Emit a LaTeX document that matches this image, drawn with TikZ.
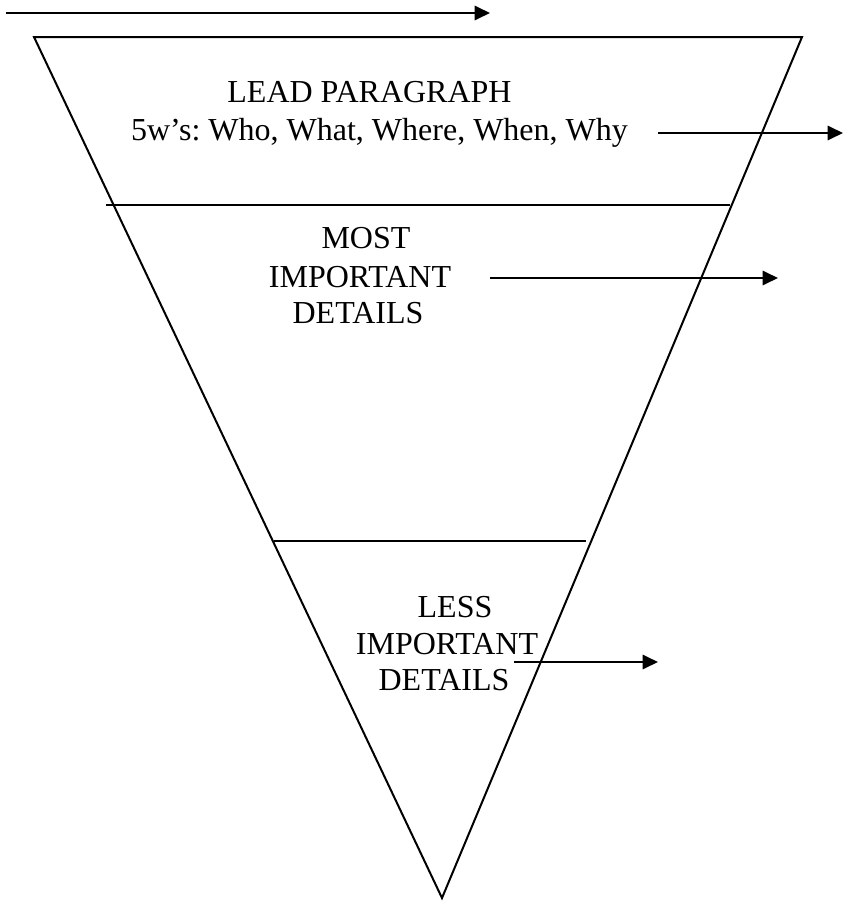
\documentclass[tikz,border=0pt]{standalone}
\usepackage{fontspec}
\setmainfont{Liberation Serif}
\usetikzlibrary{arrows.meta}
\frenchspacing
\begin{document}
\begin{tikzpicture}[x=0.375pt,y=-0.375pt,
  edge/.style={line width=0.75pt},
  arr/.style={line width=0.75pt,-{Triangle[length=5.8pt,width=5.4pt]}},
  lbl/.style={anchor=base,inner sep=0pt,font=\fontsize{12pt}{13.5pt}\selectfont}]
\useasboundingbox (0,0) rectangle (843,903);
% funnel
\coordinate (tl) at (34,37);
\coordinate (tr) at (802,37);
\coordinate (apex) at (442,898);
\draw[edge,line join=miter] (tl) -- (tr) -- (apex) -- cycle;
\coordinate (d1l) at (106,205);
\coordinate (d1r) at (730,205);
\coordinate (d2l) at (274,541);
\coordinate (d2r) at (586,541);
\draw[edge] (d1l) -- (d1r);
\draw[edge] (d2l) -- (d2r);
% texts
\node[lbl] (lead) at (369.5,102) {LEAD PARAGRAPH};
\node[lbl] (fivew) at (379.5,140) {5w’s: Who, What, Where, When, Why};
\node[lbl] (most1) at (366,248) {MOST};
\node[lbl] (most2) at (360,287) {IMPORTANT};
\node[lbl] (most3) at (358,323) {DETAILS};
\node[lbl] (less1) at (455,617) {LESS};
\node[lbl] (less2) at (447,654) {IMPORTANT};
\node[lbl] (less3) at (444,690) {DETAILS};
% arrows
\coordinate (a0s) at (6,13);
\coordinate (a0e) at (490,13);
\draw[arr] (a0s) -- (a0e);
\coordinate (a1s) at (658,133);
\coordinate (a1e) at (843,133);
\draw[arr] (a1s) -- (a1e);
\coordinate (a2s) at (490,278);
\coordinate (a2e) at (778,278);
\draw[arr] (a2s) -- (a2e);
\coordinate (a3s) at (514,662);
\coordinate (a3e) at (658,662);
\draw[arr] (a3s) -- (a3e);
\end{tikzpicture}
\end{document}
